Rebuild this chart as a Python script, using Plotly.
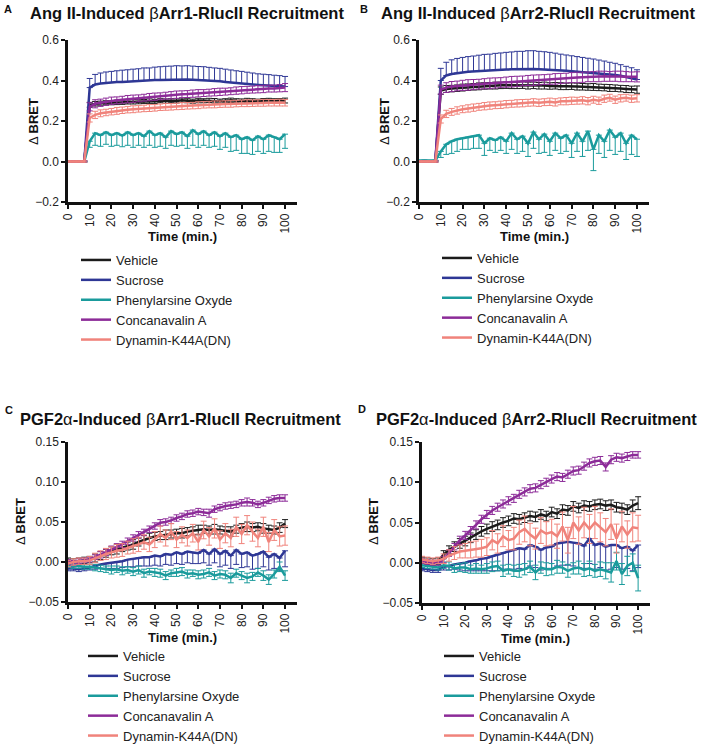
"""
Four-panel BRET kinetics figure: beta-arrestin recruitment after Ang II / PGF2a,
with endocytosis inhibitors. Plotly rebuild of a GraphPad-style figure.
"""

import plotly.graph_objects as go

W, H = 702, 746

# ---------------------------------------------------------------- data
TIME = [0, 2.5, 5, 7.5, 10, 12.5, 15, 17.5, 20, 22.5, 25, 27.5, 30, 32.5, 35,
        37.5, 40, 42.5, 45, 47.5, 50, 52.5, 55, 57.5, 60, 62.5, 65, 67.5, 70,
        72.5, 75, 77.5, 80, 82.5, 85, 87.5, 90, 92.5, 95, 97.5, 100]

SERIES = ["Vehicle", "Sucrose", "Phenylarsine Oxyde", "Concanavalin A", "Dynamin-K44A(DN)"]

X_TICKS = [0, 10, 20, 30, 40, 50, 60, 70, 80, 90, 100]
Y_TICKS_ANG = [-0.2, 0.0, 0.2, 0.4, 0.6]
Y_TICKS_PGF = [-0.05, 0.00, 0.05, 0.10, 0.15]

# --- A: Ang II, bArr1
A_VEH = [0.0, 0.0, 0.0, 0.0,
         0.28, 0.285, 0.288, 0.29, 0.29, 0.292, 0.292, 0.294, 0.295, 0.295,
         0.296, 0.298, 0.297, 0.3, 0.298, 0.3, 0.299, 0.302, 0.3, 0.298,
         0.301, 0.3, 0.302, 0.3, 0.298, 0.3, 0.302, 0.3, 0.299, 0.301,
         0.3, 0.298, 0.3, 0.302, 0.3, 0.3, 0.301]
A_VEH_ERR = [0.003, 0.003, 0.003, 0.003,
             0.012, 0.011, 0.01, 0.01, 0.01, 0.011, 0.01, 0.01, 0.011, 0.01,
             0.01, 0.011, 0.01, 0.01, 0.011, 0.01, 0.01, 0.011, 0.01, 0.01,
             0.011, 0.01, 0.01, 0.011, 0.01, 0.01, 0.011, 0.01, 0.01, 0.011,
             0.01, 0.01, 0.011, 0.01, 0.01, 0.011, 0.012]
A_SUC = [0.0, 0.0, 0.0, 0.0,
         0.365, 0.38, 0.385, 0.388, 0.39, 0.392, 0.393, 0.395, 0.396, 0.398,
         0.4, 0.4, 0.402, 0.403, 0.404, 0.405, 0.405, 0.404, 0.405, 0.404,
         0.403, 0.402, 0.4, 0.398, 0.396, 0.393, 0.39, 0.388, 0.385, 0.383,
         0.38, 0.378, 0.376, 0.375, 0.373, 0.372, 0.37]
A_SUC_ERR = [0.004, 0.004, 0.004, 0.004,
             0.045, 0.05, 0.052, 0.054, 0.055, 0.056, 0.058, 0.058, 0.06, 0.06,
             0.062, 0.062, 0.064, 0.065, 0.066, 0.066, 0.068, 0.068, 0.068, 0.067,
             0.066, 0.066, 0.065, 0.064, 0.064, 0.063, 0.062, 0.06, 0.06, 0.058,
             0.057, 0.055, 0.055, 0.054, 0.053, 0.052, 0.05]
A_PHE = [0.0, 0.0, 0.0, 0.0,
         0.1, 0.14, 0.13, 0.145, 0.13, 0.14, 0.128, 0.145, 0.13, 0.14,
         0.125, 0.15, 0.13, 0.14, 0.12, 0.15, 0.135, 0.145, 0.125, 0.155,
         0.135, 0.15, 0.13, 0.145, 0.125, 0.14, 0.12, 0.13, 0.11, 0.12,
         0.105, 0.125, 0.11, 0.13, 0.12, 0.11, 0.135]
A_PHE_ERR = [0.003, 0.003, 0.003, 0.003,
             0.03, 0.06, 0.055, 0.06, 0.055, 0.06, 0.055, 0.065, 0.06, 0.06,
             0.055, 0.07, 0.06, 0.065, 0.055, 0.07, 0.06, 0.065, 0.06, 0.075,
             0.065, 0.07, 0.06, 0.07, 0.065, 0.07, 0.07, 0.075, 0.07, 0.08,
             0.07, 0.075, 0.07, 0.08, 0.075, 0.065, 0.07]
A_CON = [0.0, 0.0, 0.0, 0.0,
         0.27, 0.285, 0.29, 0.295, 0.3, 0.302, 0.305, 0.308, 0.31, 0.312,
         0.315, 0.318, 0.32, 0.322, 0.325, 0.327, 0.33, 0.332, 0.333, 0.335,
         0.337, 0.338, 0.34, 0.342, 0.344, 0.345, 0.347, 0.35, 0.352, 0.354,
         0.355, 0.357, 0.358, 0.36, 0.36, 0.362, 0.365]
A_CON_ERR = [0.003, 0.003, 0.003, 0.003,
             0.02, 0.02, 0.018, 0.018, 0.018, 0.017, 0.017, 0.018, 0.018, 0.017,
             0.017, 0.018, 0.018, 0.017, 0.017, 0.018, 0.018, 0.017, 0.017, 0.018,
             0.018, 0.017, 0.017, 0.018, 0.018, 0.017, 0.017, 0.018, 0.018, 0.017,
             0.017, 0.018, 0.018, 0.017, 0.017, 0.018, 0.02]
A_DYN = [0.0, 0.0, 0.0, 0.0,
         0.215, 0.23, 0.238, 0.242, 0.246, 0.25, 0.253, 0.256, 0.258, 0.26,
         0.262, 0.264, 0.265, 0.268, 0.27, 0.27, 0.272, 0.274, 0.275, 0.276,
         0.278, 0.28, 0.281, 0.282, 0.283, 0.284, 0.285, 0.286, 0.287, 0.288,
         0.288, 0.289, 0.29, 0.29, 0.29, 0.291, 0.29]
A_DYN_ERR = [0.003, 0.003, 0.003, 0.003,
             0.02, 0.018, 0.017, 0.016, 0.016, 0.017, 0.016, 0.016, 0.017, 0.016,
             0.016, 0.017, 0.016, 0.016, 0.017, 0.016, 0.016, 0.017, 0.016, 0.016,
             0.017, 0.016, 0.016, 0.017, 0.016, 0.016, 0.017, 0.016, 0.016, 0.017,
             0.016, 0.016, 0.017, 0.016, 0.016, 0.017, 0.016]

# --- B: Ang II, bArr2
B_VEH = [0.0, 0.0, 0.0, 0.0,
         0.35, 0.358, 0.36, 0.362, 0.365, 0.367, 0.369, 0.371, 0.373, 0.374,
         0.375, 0.376, 0.377, 0.377, 0.376, 0.377, 0.375, 0.376, 0.374, 0.375,
         0.373, 0.374, 0.372, 0.371, 0.372, 0.37, 0.369, 0.368, 0.368, 0.366,
         0.365, 0.363, 0.362, 0.36, 0.358, 0.356, 0.355]
B_VEH_ERR = [0.003, 0.003, 0.003, 0.003,
             0.018, 0.017, 0.016, 0.016, 0.017, 0.016, 0.016, 0.017, 0.016, 0.016,
             0.017, 0.016, 0.016, 0.017, 0.016, 0.016, 0.017, 0.016, 0.016, 0.017,
             0.016, 0.016, 0.017, 0.016, 0.016, 0.017, 0.016, 0.016, 0.017, 0.016,
             0.016, 0.017, 0.016, 0.016, 0.017, 0.016, 0.018]
B_SUC = [0.0, 0.002, 0.0, 0.002,
         0.4, 0.425, 0.432, 0.437, 0.44, 0.443, 0.445, 0.447, 0.449, 0.45,
         0.452, 0.453, 0.454, 0.455, 0.456, 0.456, 0.457, 0.457, 0.456, 0.455,
         0.454, 0.452, 0.45, 0.448, 0.446, 0.444, 0.442, 0.44, 0.438, 0.435,
         0.432, 0.43, 0.427, 0.423, 0.418, 0.413, 0.405]
B_SUC_ERR = [0.004, 0.004, 0.004, 0.004,
             0.06, 0.065, 0.07, 0.072, 0.074, 0.075, 0.076, 0.078, 0.08, 0.08,
             0.082, 0.083, 0.085, 0.086, 0.088, 0.088, 0.09, 0.09, 0.088, 0.087,
             0.085, 0.083, 0.08, 0.078, 0.076, 0.074, 0.072, 0.07, 0.068, 0.066,
             0.064, 0.06, 0.058, 0.055, 0.052, 0.05, 0.048]
B_PHE = [0.005, 0.006, 0.004, 0.005,
         0.05, 0.085, 0.1, 0.11, 0.115, 0.12, 0.125, 0.13, 0.09, 0.115,
         0.105, 0.12, 0.1, 0.14, 0.11, 0.125, 0.09, 0.145, 0.11, 0.135,
         0.1, 0.14, 0.115, 0.13, 0.09, 0.14, 0.1, 0.15, 0.06, 0.13,
         0.1, 0.155, 0.12, 0.14, 0.09, 0.13, 0.11]
B_PHE_ERR = [0.003, 0.003, 0.003, 0.003,
             0.03, 0.05, 0.06, 0.06, 0.055, 0.06, 0.06, 0.065, 0.06, 0.06,
             0.06, 0.065, 0.06, 0.08, 0.07, 0.075, 0.065, 0.08, 0.07, 0.09,
             0.07, 0.085, 0.075, 0.08, 0.07, 0.09, 0.075, 0.095, 0.105, 0.09,
             0.08, 0.1, 0.085, 0.09, 0.08, 0.095, 0.085]
B_CON = [0.0, 0.0, 0.0, 0.0,
         0.355, 0.365, 0.37, 0.373, 0.376, 0.378, 0.38, 0.382, 0.384, 0.386,
         0.388, 0.39, 0.392, 0.394, 0.396, 0.398, 0.4, 0.401, 0.403, 0.405,
         0.406, 0.408, 0.41, 0.412, 0.414, 0.415, 0.416, 0.418, 0.419, 0.42,
         0.421, 0.42, 0.421, 0.42, 0.419, 0.418, 0.418]
B_CON_ERR = [0.003, 0.003, 0.003, 0.003,
             0.022, 0.024, 0.025, 0.024, 0.025, 0.026, 0.025, 0.024, 0.025, 0.026,
             0.025, 0.024, 0.025, 0.026, 0.025, 0.024, 0.025, 0.026, 0.025, 0.024,
             0.025, 0.026, 0.025, 0.024, 0.025, 0.026, 0.025, 0.024, 0.025, 0.026,
             0.025, 0.024, 0.025, 0.026, 0.025, 0.024, 0.025]
B_DYN = [0.0, 0.0, 0.0, 0.0,
         0.21, 0.235, 0.245, 0.252, 0.258, 0.262, 0.266, 0.27, 0.273, 0.276,
         0.278, 0.28, 0.283, 0.285, 0.287, 0.288, 0.29, 0.292, 0.29, 0.293,
         0.295, 0.292, 0.297, 0.298, 0.3, 0.3, 0.302, 0.298, 0.305, 0.3,
         0.31, 0.315, 0.305, 0.312, 0.315, 0.31, 0.312]
B_DYN_ERR = [0.003, 0.003, 0.003, 0.003,
             0.02, 0.018, 0.017, 0.018, 0.017, 0.018, 0.018, 0.017, 0.018, 0.018,
             0.017, 0.018, 0.018, 0.017, 0.018, 0.018, 0.017, 0.018, 0.018, 0.017,
             0.018, 0.018, 0.017, 0.018, 0.018, 0.017, 0.018, 0.018, 0.017, 0.018,
             0.018, 0.017, 0.018, 0.018, 0.017, 0.018, 0.018]

# --- C: PGF2a, bArr1
C_VEH = [0.001, 0.0, 0.001, 0.002,
         0.003, 0.005, 0.008, 0.011, 0.014, 0.016, 0.018, 0.02, 0.022, 0.025,
         0.028, 0.03, 0.032, 0.033, 0.034, 0.035, 0.036, 0.036, 0.038, 0.039,
         0.04, 0.041, 0.04, 0.041, 0.04, 0.039, 0.038, 0.041, 0.043, 0.044,
         0.043, 0.044, 0.042, 0.041, 0.04, 0.043, 0.048]
C_VEH_ERR = [0.004, 0.004, 0.004, 0.004,
             0.004, 0.005, 0.005, 0.005, 0.005, 0.006, 0.005, 0.005, 0.006, 0.005,
             0.005, 0.006, 0.005, 0.005, 0.006, 0.005, 0.005, 0.006, 0.005, 0.005,
             0.006, 0.005, 0.005, 0.006, 0.005, 0.005, 0.006, 0.005, 0.005, 0.006,
             0.005, 0.005, 0.006, 0.005, 0.005, 0.006, 0.005]
C_SUC = [-0.008, -0.008, -0.009, -0.008,
         -0.007, -0.005, -0.003, -0.002, -0.001, 0.0, 0.001, 0.003, 0.004, 0.005,
         0.006, 0.006, 0.008, 0.007, 0.01, 0.009, 0.012, 0.01, 0.013, 0.012,
         0.011, 0.015, 0.01, 0.016, 0.01, 0.014, 0.008, 0.015, 0.01, 0.012,
         0.008, 0.01, 0.013, 0.006, 0.01, 0.005, 0.014]
C_SUC_ERR = [0.003, 0.003, 0.003, 0.003,
             0.003, 0.004, 0.005, 0.006, 0.007, 0.008, 0.008, 0.009, 0.01, 0.01,
             0.011, 0.011, 0.012, 0.012, 0.013, 0.013, 0.014, 0.013, 0.014, 0.014,
             0.013, 0.016, 0.014, 0.017, 0.016, 0.018, 0.016, 0.018, 0.017, 0.018,
             0.017, 0.018, 0.019, 0.016, 0.018, 0.016, 0.02]
C_PHE = [-0.004, -0.005, -0.005, -0.006,
         -0.006, -0.007, -0.008, -0.009, -0.01, -0.009, -0.011, -0.01, -0.012, -0.01,
         -0.014, -0.012, -0.013, -0.014, -0.017, -0.014, -0.013, -0.012, -0.015, -0.014,
         -0.016, -0.015, -0.013, -0.017, -0.015, -0.016, -0.02, -0.014, -0.017, -0.02,
         -0.018, -0.013, -0.017, -0.022, -0.015, -0.006, -0.017]
C_PHE_ERR = [0.003, 0.003, 0.003, 0.003,
             0.003, 0.004, 0.004, 0.004, 0.005, 0.004, 0.005, 0.004, 0.005, 0.005,
             0.005, 0.004, 0.005, 0.005, 0.005, 0.004, 0.005, 0.005, 0.005, 0.004,
             0.005, 0.005, 0.005, 0.005, 0.005, 0.005, 0.006, 0.005, 0.005, 0.006,
             0.005, 0.005, 0.006, 0.006, 0.005, 0.006, 0.006]
C_CON = [0.0, -0.001, 0.001, 0.002,
         0.003, 0.006, 0.009, 0.012, 0.016, 0.019, 0.022, 0.026, 0.03, 0.034,
         0.037, 0.041, 0.045, 0.049, 0.05, 0.052, 0.055, 0.057, 0.06, 0.061,
         0.063, 0.062, 0.061, 0.066, 0.068, 0.07, 0.071, 0.072, 0.074, 0.075,
         0.074, 0.072, 0.074, 0.077, 0.079, 0.08, 0.08]
C_CON_ERR = [0.003, 0.003, 0.003, 0.003,
             0.003, 0.003, 0.004, 0.004, 0.004, 0.004, 0.004, 0.004, 0.004, 0.004,
             0.004, 0.004, 0.004, 0.004, 0.004, 0.004, 0.004, 0.004, 0.004, 0.004,
             0.004, 0.004, 0.005, 0.004, 0.004, 0.004, 0.004, 0.004, 0.004, 0.005,
             0.004, 0.004, 0.004, 0.004, 0.004, 0.004, 0.004]
C_DYN = [-0.002, 0.0, 0.001, 0.001,
         0.002, 0.005, 0.008, 0.01, 0.012, 0.014, 0.015, 0.018, 0.02, 0.022,
         0.025, 0.022, 0.028, 0.035, 0.03, 0.038, 0.028, 0.034, 0.03, 0.036,
         0.025, 0.04, 0.032, 0.042, 0.028, 0.036, 0.03, 0.044, 0.035, 0.046,
         0.038, 0.03, 0.044, 0.025, 0.04, 0.032, 0.033]
C_DYN_ERR = [0.004, 0.004, 0.004, 0.004,
             0.005, 0.006, 0.006, 0.007, 0.007, 0.008, 0.008, 0.008, 0.009, 0.009,
             0.009, 0.009, 0.01, 0.01, 0.01, 0.01, 0.01, 0.01, 0.01, 0.011,
             0.01, 0.011, 0.011, 0.012, 0.011, 0.012, 0.011, 0.012, 0.012, 0.012,
             0.012, 0.011, 0.012, 0.012, 0.013, 0.012, 0.012]

# --- D: PGF2a, bArr2
D_VEH = [0.003, 0.002, 0.001, 0.002,
         0.01, 0.016, 0.02, 0.024, 0.027, 0.031, 0.035, 0.039, 0.042, 0.045,
         0.047, 0.05, 0.052, 0.055, 0.054, 0.056, 0.058, 0.057, 0.06, 0.058,
         0.063, 0.061, 0.066, 0.065, 0.07, 0.068, 0.071, 0.07, 0.072, 0.073,
         0.071, 0.072, 0.069, 0.068, 0.066, 0.071, 0.074]
D_VEH_ERR = [0.004, 0.004, 0.004, 0.004,
             0.005, 0.005, 0.006, 0.006, 0.006, 0.006, 0.006, 0.006, 0.006, 0.006,
             0.006, 0.006, 0.006, 0.006, 0.006, 0.006, 0.006, 0.006, 0.006, 0.006,
             0.006, 0.006, 0.006, 0.006, 0.006, 0.006, 0.006, 0.006, 0.006, 0.006,
             0.006, 0.006, 0.006, 0.006, 0.006, 0.007, 0.008]
D_SUC = [-0.007, -0.008, -0.009, -0.009,
         -0.005, -0.004, -0.002, -0.001, 0.0, 0.002, 0.003, 0.005, 0.006, 0.008,
         0.01, 0.012, 0.014, 0.016, 0.018, 0.017, 0.022, 0.02, 0.016, 0.019,
         0.02, 0.024, 0.025, 0.026, 0.025, 0.024, 0.021, 0.03, 0.022, 0.024,
         0.02, 0.022, 0.022, 0.018, 0.02, 0.015, 0.022]
D_SUC_ERR = [0.003, 0.003, 0.003, 0.003,
             0.004, 0.005, 0.006, 0.008, 0.01, 0.012, 0.013, 0.015, 0.016, 0.018,
             0.02, 0.02, 0.022, 0.024, 0.025, 0.025, 0.026, 0.026, 0.025, 0.026,
             0.027, 0.028, 0.028, 0.029, 0.029, 0.03, 0.028, 0.031, 0.03, 0.03,
             0.029, 0.03, 0.028, 0.026, 0.027, 0.025, 0.028]
D_PHE = [-0.003, -0.004, -0.005, -0.006,
         -0.003, -0.004, -0.007, -0.006, -0.006, -0.008, -0.007, -0.008, -0.007, -0.005,
         -0.004, -0.01, -0.008, -0.01, -0.01, -0.008, -0.005, -0.012, -0.006, -0.008,
         -0.008, -0.005, -0.006, -0.01, -0.007, -0.006, -0.009, -0.007, -0.01, -0.008,
         -0.01, -0.012, 0.002, -0.014, -0.004, 0.0, -0.019]
D_PHE_ERR = [0.003, 0.003, 0.003, 0.003,
             0.004, 0.005, 0.005, 0.005, 0.006, 0.005, 0.006, 0.005, 0.006, 0.006,
             0.006, 0.007, 0.006, 0.007, 0.008, 0.007, 0.007, 0.009, 0.007, 0.008,
             0.007, 0.008, 0.007, 0.008, 0.007, 0.008, 0.008, 0.009, 0.008, 0.009,
             0.01, 0.012, 0.011, 0.013, 0.012, 0.011, 0.016]
D_CON = [0.002, 0.001, 0.0, 0.0,
         0.004, 0.012, 0.02, 0.028, 0.034, 0.04, 0.047, 0.054, 0.06, 0.065,
         0.069, 0.073, 0.077, 0.08, 0.085, 0.088, 0.092, 0.093, 0.097, 0.1,
         0.104, 0.107, 0.106, 0.11, 0.114, 0.115, 0.12, 0.124, 0.126, 0.127,
         0.119, 0.128, 0.131, 0.13, 0.132, 0.134, 0.134]
D_CON_ERR = [0.003, 0.003, 0.003, 0.003,
             0.004, 0.004, 0.004, 0.005, 0.005, 0.005, 0.005, 0.005, 0.005, 0.005,
             0.005, 0.005, 0.005, 0.005, 0.005, 0.005, 0.005, 0.005, 0.005, 0.005,
             0.005, 0.005, 0.005, 0.005, 0.005, 0.005, 0.005, 0.005, 0.005, 0.005,
             0.005, 0.005, 0.005, 0.005, 0.005, 0.004, 0.004]
D_DYN = [0.004, 0.003, 0.002, 0.003,
         0.005, 0.009, 0.012, 0.014, 0.015, 0.016, 0.017, 0.018, 0.02, 0.028,
         0.024, 0.033, 0.028, 0.03, 0.038, 0.042, 0.035, 0.03, 0.04, 0.036,
         0.038, 0.033, 0.045, 0.028, 0.05, 0.04, 0.05, 0.042, 0.05, 0.044,
         0.038, 0.048, 0.03, 0.045, 0.035, 0.044, 0.043]
D_DYN_ERR = [0.004, 0.004, 0.004, 0.004,
             0.006, 0.007, 0.008, 0.008, 0.009, 0.01, 0.01, 0.011, 0.011, 0.012,
             0.012, 0.013, 0.012, 0.014, 0.015, 0.016, 0.014, 0.013, 0.016, 0.015,
             0.016, 0.015, 0.018, 0.016, 0.02, 0.017, 0.019, 0.018, 0.02, 0.018,
             0.017, 0.019, 0.018, 0.019, 0.017, 0.018, 0.016]

# ---------------------------------------------------------------- style
COLORS = ["#1b1b1b", "#2e3795", "#1a9b9c", "#8c2b98", "#f0837b"]
FONT = "Liberation Sans, Arial, sans-serif"
INK = "#111111"

PANELS = [
    dict(letter="A", col=0, row=0,
         title="<b>Ang II-Induced </b>β<b>Arr1-RlucII Recruitment</b>",
         values=[A_VEH, A_SUC, A_PHE, A_CON, A_DYN],
         errors=[A_VEH_ERR, A_SUC_ERR, A_PHE_ERR, A_CON_ERR, A_DYN_ERR],
         err_dir=["both", "up", "down", "both", "both"]),
    dict(letter="B", col=1, row=0,
         title="<b>Ang II-Induced </b>β<b>Arr2-RlucII Recruitment</b>",
         values=[B_VEH, B_SUC, B_PHE, B_CON, B_DYN],
         errors=[B_VEH_ERR, B_SUC_ERR, B_PHE_ERR, B_CON_ERR, B_DYN_ERR],
         err_dir=["both", "up", "down", "both", "both"]),
    dict(letter="C", col=0, row=1,
         title="<b>PGF2</b>α<b>-Induced </b>β<b>Arr1-RlucII Recruitment</b>",
         values=[C_VEH, C_SUC, C_PHE, C_CON, C_DYN],
         errors=[C_VEH_ERR, C_SUC_ERR, C_PHE_ERR, C_CON_ERR, C_DYN_ERR],
         err_dir=["both", "down", "both", "both", "both"]),
    dict(letter="D", col=1, row=1,
         title="<b>PGF2</b>α<b>-Induced </b>β<b>Arr2-RlucII Recruitment</b>",
         values=[D_VEH, D_SUC, D_PHE, D_CON, D_DYN],
         errors=[D_VEH_ERR, D_SUC_ERR, D_PHE_ERR, D_CON_ERR, D_DYN_ERR],
         err_dir=["both", "down", "both", "both", "both"]),
]

# pixel geometry of each panel (left/right of x axis, top/bottom of y axis)
AXIS_BOX = {(0, 0): (68, 297, 40, 202), (1, 0): (419, 649, 40, 202),
            (0, 1): (68, 297, 442, 602), (1, 1): (422, 650, 442, 603)}
LABEL_POS = {  # letter centre, title left edge, y-title, x-title, legend (left, top)
    (0, 0): dict(letter=(8, 9), title=(28, 13), ytitle=(33, 122), xtitle=(182, 236), legend=(76, 245)),
    (1, 0): dict(letter=(364, 9), title=(379, 13), ytitle=(384, 122), xtitle=(534, 236), legend=(437, 243)),
    (0, 1): dict(letter=(9, 410), title=(18, 419), ytitle=(20, 522), xtitle=(182, 637), legend=(83, 641)),
    (1, 1): dict(letter=(362, 409), title=(374, 419), ytitle=(373, 522), xtitle=(535, 638), legend=(439, 641)),
}


def _px(x):
    return x / W


def _py(y):
    return 1 - y / H


def _err(err, color, direction):
    zeros = [0.0] * len(err)
    return dict(
        type="data", symmetric=False,
        array=err if direction in ("both", "up") else zeros,
        arrayminus=err if direction in ("both", "down") else zeros,
        color=color, thickness=1, width=3,
    )


def _note(text, xy, size, anchor="center", angle=0):
    return dict(text=text, x=_px(xy[0]), y=_py(xy[1]), xref="paper", yref="paper",
                showarrow=False, xanchor=anchor, yanchor="middle", textangle=angle,
                font=dict(family=FONT, size=size, color=INK))


fig = go.Figure()
annotations = []

for i, p in enumerate(PANELS):
    n = "" if i == 0 else str(i + 1)
    key = (p["col"], p["row"])
    x0, x1, ytop, ybot = AXIS_BOX[key]
    pos = LABEL_POS[key]
    legend_name = "legend" + n

    for name, color, vals, errs, d in zip(SERIES, COLORS, p["values"], p["errors"], p["err_dir"]):
        assert len(vals) == len(TIME) and len(errs) == len(TIME), (p["letter"], name)
        fig.add_trace(go.Scatter(
            x=TIME, y=vals, name=name, mode="lines",
            line=dict(color=color, width=2.5),
            error_y=_err(errs, color, d),
            xaxis="x" + n, yaxis="y" + n, legend=legend_name,
        ))

    ang = p["row"] == 0
    yticks = Y_TICKS_ANG if ang else Y_TICKS_PGF
    axis_common = dict(showline=True, linecolor=INK, linewidth=2.5, ticks="outside",
                       tickcolor=INK, tickwidth=2, ticklen=4, showgrid=False, zeroline=False,
                       automargin=False,
                       tickfont=dict(family=FONT, size=12, color="#222222"))
    fig.update_layout({
        "xaxis" + n: dict(domain=[_px(x0), _px(x1)], range=[0, 105.5], anchor="y" + n,
                          tickvals=X_TICKS, tickangle=-90, **axis_common),
        "yaxis" + n: dict(domain=[_py(ybot), _py(ytop)], range=[yticks[0], yticks[-1]],
                          anchor="x" + n, tickvals=yticks,
                          tickformat=".1f" if ang else ".2f", **axis_common),
        legend_name: dict(x=_px(pos["legend"][0]), y=_py(pos["legend"][1]),
                          xanchor="left", yanchor="top", bgcolor="rgba(0,0,0,0)",
                          itemwidth=30, font=dict(family=FONT, size=13, color="#222222"),
                          itemclick=False),
    })

    annotations += [
        _note("<b>%s</b>" % p["letter"], pos["letter"], 11),
        _note(p["title"], pos["title"], 16.5, anchor="left"),
        _note("<b>Time (min.)</b>", pos["xtitle"], 13),
        _note("Δ <b>BRET</b>", pos["ytitle"], 13, angle=-90),
    ]

fig.update_layout(
    width=W, height=H,
    margin=dict(l=0, r=0, t=0, b=0, autoexpand=False),
    paper_bgcolor="white", plot_bgcolor="white",
    showlegend=True,
    annotations=annotations,
)

# the page's default 8px body margin would push the fixed-size figure off the window
fig.write_html("out.html", config={"displayModeBar": False},
               post_script="document.body.style.margin = '0';")
